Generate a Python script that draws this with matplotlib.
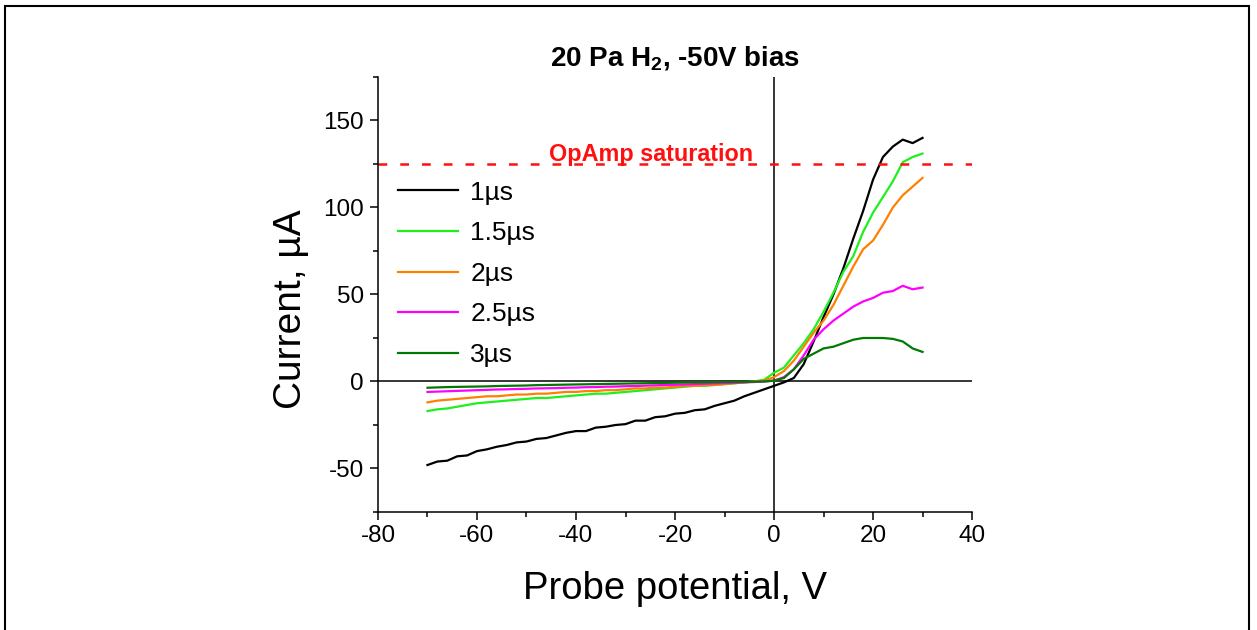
import numpy as np
from matplotlib import pyplot as plt
from matplotlib.patches import Rectangle

plt.rcParams['font.family'] = ['Liberation Sans', 'DejaVu Sans']
plt.rcParams['mathtext.fontset'] = 'custom'
plt.rcParams['mathtext.rm'] = 'Liberation Sans'
plt.rcParams['mathtext.bf'] = 'Liberation Sans:bold'
plt.rcParams['axes.unicode_minus'] = False

# probe potential, V
voltage = np.arange(-70, 31, 2)

# current, uA
cur_1us = [-48, -46, -45.5, -43, -42.5, -40, -39, -37.5, -36.5, -35, -34.5, -33, -32.5, -31, -29.5, -28.5, -28.5,
           -26.5, -26, -25, -24.5, -22.5, -22.5, -20.5, -20, -18.5, -18, -16.5, -16, -14, -12.5, -11, -8.5, -6.5,
           -4.5, -2.5, -0.5, 2, 10, 23, 37, 50, 65, 82, 98, 116, 129, 135, 139, 137, 140]
cur_15us = [-17, -16, -15.5, -14.5, -13.5, -12.5, -12, -11.5, -11, -10.5, -10, -9.5, -9.5, -9, -8.5, -8, -7.5,
            -7, -7, -6.5, -6, -5.5, -5, -4.5, -4, -3.5, -3, -2.5, -2.5, -2, -1.5, -1, -0.5, 0, 1,
            5, 8, 15, 22, 30, 40, 51, 63, 72, 86, 97, 106, 115, 126, 129, 131]
cur_2us = [-12, -11, -10.5, -10, -9.5, -9, -8.5, -8.5, -8, -7.5, -7.5, -7, -7, -6.5, -6, -6, -5.5, -5.5, -5,
           -5, -4.5, -4, -4, -3.5, -3.5, -3, -2.5, -2.5, -2, -2, -1.5, -1, -0.5, 0, 0.5,
           2.5, 6, 12, 20, 28, 35, 44, 55, 66, 76, 81, 90, 100, 107, 112, 117]
cur_25us = [-6, -5.8, -5.6, -5.4, -5.2, -5, -4.8, -4.6, -4.5, -4.3, -4.2, -4, -3.9, -3.8, -3.6, -3.5, -3.3,
            -3.2, -3, -2.9, -2.7, -2.6, -2.4, -2.2, -2, -1.9, -1.7, -1.5, -1.3, -1.1, -0.9, -0.7, -0.5, -0.3, 0,
            0.5, 2.5, 7, 15, 24, 30, 35, 39, 43, 46, 48, 51, 52, 55, 53, 54]
cur_3us = [-3.6, -3.4, -3.2, -3.1, -3.0, -2.9, -2.8, -2.6, -2.5, -2.4, -2.3, -2.1, -2.0, -1.9, -1.8, -1.7, -1.6,
           -1.5, -1.4, -1.3, -1.2, -1.1, -1.0, -0.9, -0.8, -0.7, -0.6, -0.5, -0.5, -0.4, -0.3, -0.3, -0.2, -0.1, 0,
           0.5, 2, 7, 13, 16, 19, 20, 22, 24, 25, 25, 25, 24.5, 23, 19, 17]

labels = ['1µs', '1.5µs', '2µs', '2.5µs', '3µs']
colors = ['black', '#1EF01E', '#FF8000', '#FF00FF', '#007A00']
saturation = 125

fig = plt.figure(figsize=(12.57, 6.30), dpi=100)
ax = fig.add_axes([0.3007, 0.1873, 0.4726, 0.6905])

series = [cur_1us, cur_15us, cur_2us, cur_25us, cur_3us]
handles = []
for cur, lab, col in zip(series, labels, colors):
    h, = ax.plot(voltage, cur, color=col, lw=1.6, label=lab)
    handles.append(h)

ax.axhline(0, color='black', lw=1.1, zorder=1)
ax.axvline(0, color='black', lw=1.1, zorder=1)
ax.axhline(saturation, color='#FF1010', lw=1.8, dashes=(3.5, 5.2))
ax.text(-45.5, 126.6, 'OpAmp saturation', color='#FF1010', fontsize=16.8, fontweight='bold', va='baseline')

ax.set_xlim(-80, 40)
ax.set_ylim(-75, 175)
ax.set_xticks(np.arange(-80, 41, 20))
ax.set_xticks(np.arange(-70, 40, 20), minor=True)
ax.set_yticks(np.arange(-50, 151, 50))
ax.set_yticks(np.arange(-75, 176, 25), minor=True)
ax.spines['top'].set_visible(False)
ax.spines['right'].set_visible(False)
ax.spines['left'].set_linewidth(1.1)
ax.spines['bottom'].set_linewidth(1.1)
ax.tick_params(axis='both', which='major', direction='out', length=6, width=1.1, labelsize=17.5)
ax.tick_params(axis='both', which='minor', direction='out', length=3.5, width=1.1)
ax.tick_params(axis='x', pad=3.5)
ax.tick_params(axis='y', pad=4)

ax.set_xlabel('Probe potential, V', fontsize=27.5, labelpad=17)
ax.set_ylabel('Current, µA', fontsize=28)
ax.yaxis.set_label_coords(-0.116, 0.4655)

ax.text(0.5, 1.0237, r'20 Pa H$_\mathbf{2}$, -50V bias', transform=ax.transAxes, ha='center', va='baseline',
        fontsize=20, fontweight='bold')

ax.legend(handles=handles, loc='upper left', bbox_to_anchor=(0.033, 0.762), frameon=False, fontsize=19,
          handlelength=2.3, handletextpad=0.45, labelspacing=0.63, borderpad=0, borderaxespad=0)

fig.patches.append(Rectangle((5 / 1257, -0.02), 1244 / 1257, 1.02 - 6 / 630, transform=fig.transFigure,
                             fill=False, edgecolor='black', lw=1.5))

fig.savefig('out.png', dpi=100)
